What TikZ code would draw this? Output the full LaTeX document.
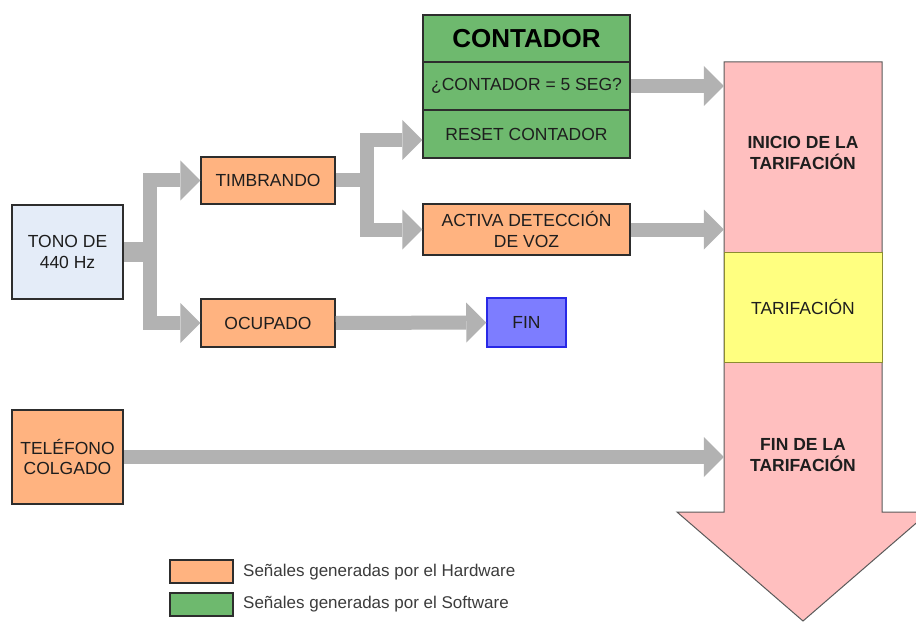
\documentclass[tikz,border=0pt]{standalone}
\usepackage{fontspec}
\setmainfont{Liberation Sans}
\usetikzlibrary{arrows.meta}
\definecolor{hwfill}{RGB}{255,179,128}
\definecolor{swfill}{RGB}{110,185,110}
\definecolor{tonefill}{RGB}{228,236,248}
\definecolor{finfill}{RGB}{125,125,255}
\definecolor{finline}{RGB}{40,40,230}
\definecolor{pinkfill}{RGB}{255,191,191}
\definecolor{yelfill}{RGB}{255,255,128}
\definecolor{yelline}{RGB}{140,140,50}
\definecolor{conngray}{RGB}{178,178,178}
\definecolor{boxline}{RGB}{45,45,45}
\definecolor{txt}{RGB}{30,30,30}
\newcommand\myfs{\fontsize{17.5}{20.5}\selectfont}
\begin{document}
\begin{tikzpicture}[x=1pt,y=-1pt,
  box/.style={draw=boxline, line width=1.5pt, inner sep=0pt, align=center, font=\myfs, text=txt},
  hwbox/.style={box, fill=hwfill},
  swbox/.style={box, fill=swfill, minimum width=207pt},
  conn/.style={draw=conngray, line width=14pt, line join=miter,
    -{Triangle[length=20pt,width=40pt,line width=0pt]}},
  stub/.style={draw=conngray, line width=20pt},
  part/.style={inner sep=0pt, align=center, font=\myfs, text=txt, minimum width=158pt},
  legtxt/.style={anchor=west, inner sep=0pt, font=\fontsize{17}{20}\selectfont, text={rgb,255:red,60;green,60;blue,60}}
]
\useasboundingbox (0,0) rectangle (916,623);
\fill[white] (0,0) rectangle (916,623);
\clip (0,0) rectangle (916,623);

% big arrow
\draw[fill=pinkfill, draw={rgb,255:red,90;green,90;blue,90}, line width=1pt, line join=miter]
  (724,62) -- (882,62) -- (882,512) -- (929,512) -- (803,621) -- (677,512) -- (724,512) -- cycle;
\node[part, font=\myfs\bfseries, minimum height=182pt] (ini) at (803,153) {INICIO DE LA\\TARIFACIÓN};
\node[part, fill=yelfill, draw=yelline, line width=1pt, minimum height=110pt] (tar) at (803,307) {TARIFACIÓN};
\node[part, font=\myfs\bfseries, minimum height=120pt] (fint) at (803,455) {FIN DE LA\\TARIFACIÓN};

% boxes
\node[box, fill=tonefill, minimum width=111pt, minimum height=94pt] (tono) at (67.5,252) {TONO DE\\440 Hz};
\node[hwbox, minimum width=134pt, minimum height=47pt] (timb) at (268,180.5) {TIMBRANDO};
\node[hwbox, minimum width=134pt, minimum height=48pt] (ocup) at (268,323) {OCUPADO};
\node[box, fill=finfill, draw=finline, minimum width=79pt, minimum height=49pt] (fin) at (526.5,322.5) {FIN};
\node[hwbox, minimum width=207pt, minimum height=51pt] (activa) at (526.5,229.5) {ACTIVA DETECCIÓN\\DE VOZ};
\node[swbox, minimum height=47pt, font=\fontsize{26}{30}\selectfont\bfseries, text=black] (chead) at (526.5,38.5) {CONTADOR};
\node[swbox, minimum height=48pt] (cq) at (526.5,86) {¿CONTADOR = 5 SEG?};
\node[swbox, minimum height=48pt] (creset) at (526.5,134) {RESET CONTADOR};
\node[hwbox, minimum width=111pt, minimum height=94pt] (tel) at (67.5,457) {TELÉFONO\\COLGADO};

% connectors
\coordinate (j1) at (150,252);
\coordinate (j2) at (367,180.5);
\draw[stub] (tono.east) -- (j1);
\draw[conn] (j1) |- (timb.west);
\draw[conn] (j1) |- (ocup.west);
\draw[draw=conngray, line width=14pt] (timb.east) -- (j2);
\draw[conn] (j2) |- ([yshift=-6pt]creset.west);
\draw[conn] (j2) |- (activa.west);
\draw[conn] (ocup.east) -- (fin.west);
\draw[conn] (cq.east) -- (cq.east -| ini.west);
\draw[conn] (activa.east) -- (activa.east -| ini.west);
\draw[conn] (tel.east) -- (tel.east -| fint.west);

% legend
\node[hwbox, minimum width=63pt, minimum height=23pt] (lhw) at (201.5,571.5) {};
\node[box, fill=swfill, minimum width=63pt, minimum height=23pt] (lsw) at (201.5,604.5) {};
\node[legtxt] (lhwt) at (243,572) {Señales generadas por el Hardware};
\node[legtxt] (lswt) at (243,604) {Señales generadas por el Software};
\end{tikzpicture}
\end{document}
